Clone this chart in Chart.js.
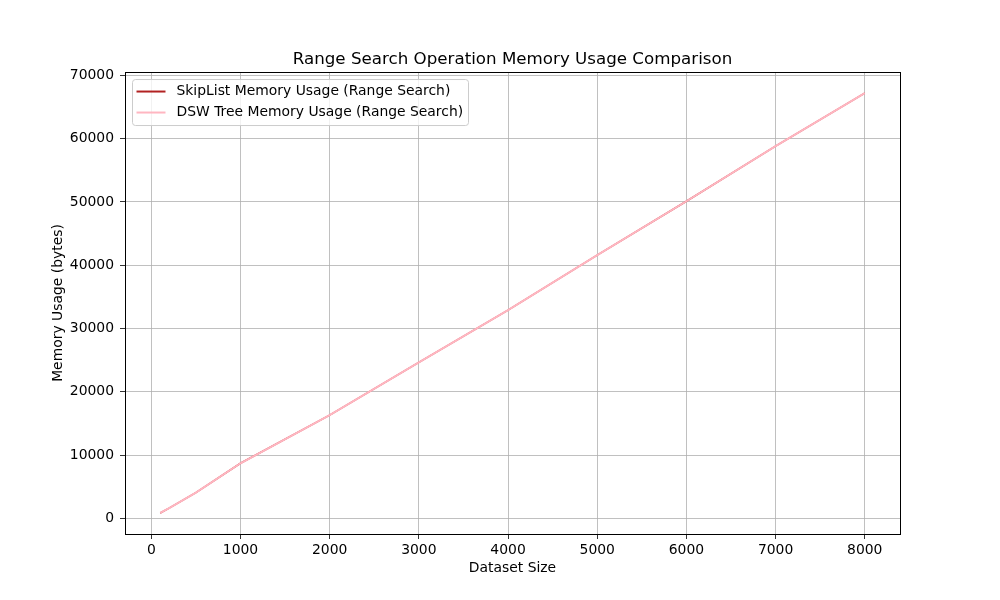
<!DOCTYPE html>
<html>
<head>
<meta charset="utf-8">
<script src="https://cdn.jsdelivr.net/npm/chart.js@4/dist/chart.umd.min.js"></script>
<style>
  html, body { margin: 0; padding: 0; background: #fff; }
  #myChart { display: block; }
</style>
</head>
<body>
<canvas id="myChart" width="1000" height="600"></canvas>
<script>
const datasetSizes = [100, 200, 500, 1000, 2000, 3000, 4000, 5000, 6000, 7000, 8000];
const skipListMemory = [840, 1600, 4050, 8700, 16300, 24650, 32900, 41600, 50100, 58800, 67200];
const dswTreeMemory = [840, 1600, 4050, 8700, 16300, 24650, 32900, 41600, 50100, 58800, 67200];
const xTicks = [0, 1000, 2000, 3000, 4000, 5000, 6000, 7000, 8000];
const yTicks = [0, 10000, 20000, 30000, 40000, 50000, 60000, 70000];

const FONT = 'DejaVu Sans';
const tickFont = { family: FONT, size: 13.9 };

const ctx = document.getElementById('myChart');

const skipList = {
    label: 'SkipList Memory Usage (Range Search)',
    data: datasetSizes.map((x, i) => ({ x: x, y: skipListMemory[i] })),
    borderColor: '#b22222',
    borderWidth: 1.5,
    pointRadius: 0,
    tension: 0,
    order: 2,
};

const dswTree = {
    label: 'DSW Tree Memory Usage (Range Search)',
    data: datasetSizes.map((x, i) => ({ x: x, y: dswTreeMemory[i] })),
    borderColor: '#ffb6c1',
    borderWidth: 2,
    pointRadius: 0,
    tension: 0,
    order: 1,
};

// black frame around the plot area
const frame = {
    id: 'frame',
    afterDatasetsDraw(chart) {
        const a = chart.chartArea;
        const c = chart.ctx;
        c.save();
        c.strokeStyle = '#000';
        c.lineWidth = 1;
        c.strokeRect(Math.round(a.left) + 0.5, Math.round(a.top) + 0.5,
            Math.round(a.right - a.left), Math.round(a.bottom - a.top));
        c.restore();
    }
};

// matplotlib-like legend box in the upper left of the plot
const boxLegend = {
    id: 'boxLegend',
    afterDraw(chart) {
        const a = chart.chartArea;
        const c = chart.ctx;
        const x = a.left + 7.5, y = a.top + 7.5, w = 336, h = 46, r = 3;
        c.save();
        c.beginPath();
        c.roundRect(x, y, w, h, r);
        c.fillStyle = 'rgba(255,255,255,0.8)';
        c.fill();
        c.strokeStyle = '#cccccc';
        c.lineWidth = 1;
        c.stroke();
        c.font = '13.9px "' + FONT + '"';
        c.textBaseline = 'middle';
        c.fillStyle = '#000';
        chart.data.datasets.forEach((ds, i) => {
            const ly = y + 12 + i * 21;
            c.beginPath();
            c.moveTo(x + 4, ly);
            c.lineTo(x + 33, ly);
            c.strokeStyle = ds.borderColor;
            c.lineWidth = 2;
            c.stroke();
            c.fillText(ds.label, x + 44, ly);
        });
        c.restore();
    }
};

const lineChart = new Chart(ctx, {
    type: 'line',
    data: { datasets: [skipList, dswTree] },
    options: {
        responsive: false,
        animation: false,
        layout: { padding: { left: 0, right: 100, top: 0, bottom: 0 } },
        plugins: {
            legend: { display: false },
            tooltip: { enabled: false },
            title: {
                display: true,
                fullSize: false,
                text: 'Range Search Operation Memory Usage Comparison',
                color: '#000',
                font: { family: FONT, size: 16.7, weight: 'normal' },
                padding: { top: 50, bottom: 2 },
            },
        },
        scales: {
            x: {
                type: 'linear',
                min: -295,
                max: 8395,
                afterBuildTicks: (scale) => { scale.ticks = xTicks.map(v => ({ value: v })); },
                afterFit: (scale) => { scale.height = 66; },
                grid: { color: '#b0b0b0', lineWidth: 0.8, tickColor: '#000', tickLength: 5 },
                border: { display: true, color: '#000', width: 1 },
                ticks: { color: '#000', font: tickFont, padding: 3, maxRotation: 0, callback: v => String(v) },
                title: {
                    display: true,
                    text: 'Dataset Size',
                    color: '#000',
                    font: tickFont,
                    padding: { top: 0, bottom: 23 },
                },
            },
            y: {
                type: 'linear',
                min: -2480,
                max: 70521,
                afterBuildTicks: (scale) => { scale.ticks = yTicks.map(v => ({ value: v })); },
                afterFit: (scale) => { scale.width = 125; },
                grid: { color: '#b0b0b0', lineWidth: 0.8, tickColor: '#000', tickLength: 5 },
                border: { display: true, color: '#000', width: 1 },
                ticks: { color: '#000', font: tickFont, padding: 6, callback: v => String(v) },
                title: {
                    display: true,
                    text: 'Memory Usage (bytes)',
                    color: '#000',
                    font: tickFont,
                    padding: { top: 50, bottom: 0 },
                },
            },
        },
    },
    plugins: [frame, boxLegend],
});
</script>
</body>
</html>
